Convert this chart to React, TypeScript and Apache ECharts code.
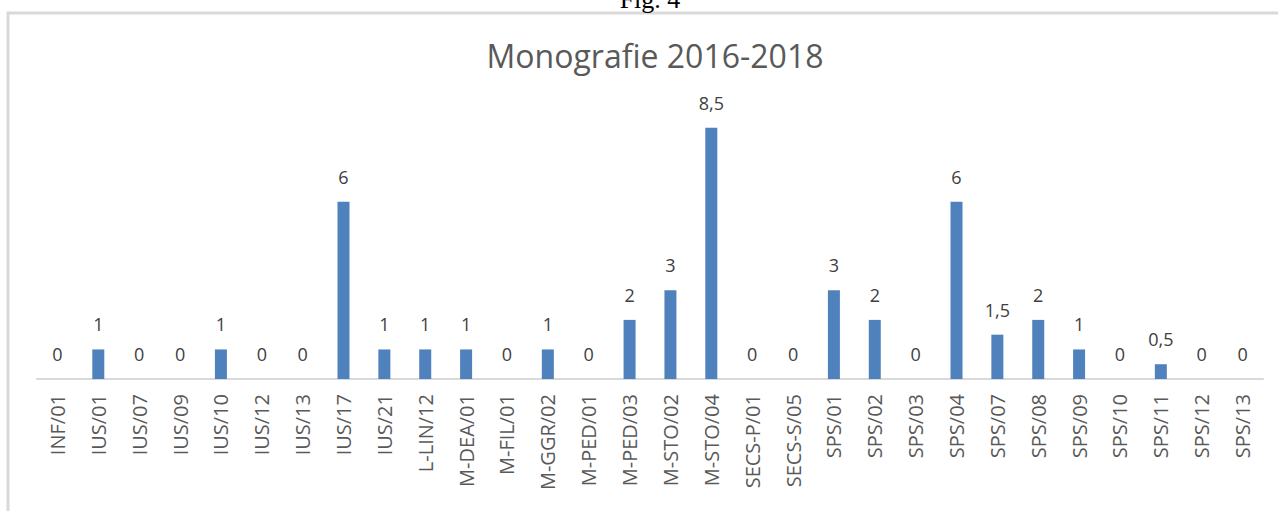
import React, { useEffect, useRef } from "react";
import * as echarts from "echarts";

const categories = [
  "INF/01", "IUS/01", "IUS/07", "IUS/09", "IUS/10", "IUS/12", "IUS/13", "IUS/17",
  "IUS/21", "L-LIN/12", "M-DEA/01", "M-FIL/01", "M-GGR/02", "M-PED/01", "M-PED/03",
  "M-STO/02", "M-STO/04", "SECS-P/01", "SECS-S/05", "SPS/01", "SPS/02", "SPS/03",
  "SPS/04", "SPS/07", "SPS/08", "SPS/09", "SPS/10", "SPS/11", "SPS/12", "SPS/13",
];
const values = [
  0, 1, 0, 0, 1, 0, 0, 6,
  1, 1, 1, 0, 1, 0, 2,
  3, 8.5, 0, 0, 3, 2, 0,
  6, 1.5, 2, 1, 0, 0.5, 0, 0,
];
const titleText = "Monografie 2016-2018";
const captionText = "Fig. 4";

export default function App() {
  const ref = useRef<HTMLDivElement>(null);
  useEffect(() => {
    if (!ref.current) return;
    const chart = echarts.init(ref.current, null, { renderer: "svg" });
    chart.setOption({
      animation: false,
      backgroundColor: "#ffffff",
      title: {
        text: titleText,
        left: 650,
        textAlign: "center",
        top: 34,
        textStyle: {
          fontFamily: "Open Sans",
          fontSize: 32,
          fontWeight: "normal",
          color: "#595959",
        },
      },
      graphic: [
        {
          type: "rect",
          silent: true,
          shape: { x: 8, y: 13, width: 1300, height: 520 },
          style: { fill: "none", stroke: "#d9d9d9", lineWidth: 3 },
        },
        {
          type: "text",
          silent: true,
          x: 650,
          y: 12,
          style: {
            text: captionText,
            fontFamily: "Liberation Serif",
            fontSize: 26,
            fill: "#000000",
            textAlign: "center",
            textVerticalAlign: "bottom",
          },
        },
      ],
      grid: { left: 37, right: 15, top: 113, height: 266, containLabel: false },
      xAxis: {
        type: "category",
        data: categories,
        axisLine: { lineStyle: { color: "#d9d9d9", width: 2 } },
        axisTick: { show: false },
        axisLabel: {
          interval: 0,
          rotate: 90,
          margin: 15,
          fontFamily: "Open Sans",
          fontSize: 20,
          color: "#595959",
        },
      },
      yAxis: {
        type: "value",
        min: 0,
        max: 9,
        show: false,
        splitLine: { show: false },
      },
      series: [
        {
          type: "bar",
          data: values,
          barWidth: 12,
          itemStyle: { color: "#4f81bd" },
          label: {
            show: true,
            position: "top",
            distance: 16,
            fontFamily: "Open Sans",
            fontSize: 18,
            color: "#404040",
            formatter: (p: any) => String(p.value).replace(".", ","),
          },
        },
      ],
    });
    return () => chart.dispose();
  }, []);
  return (
    <div
      ref={ref}
      style={{ position: "absolute", left: 0, top: 0, width: 1278, height: 511 }}
    />
  );
}
